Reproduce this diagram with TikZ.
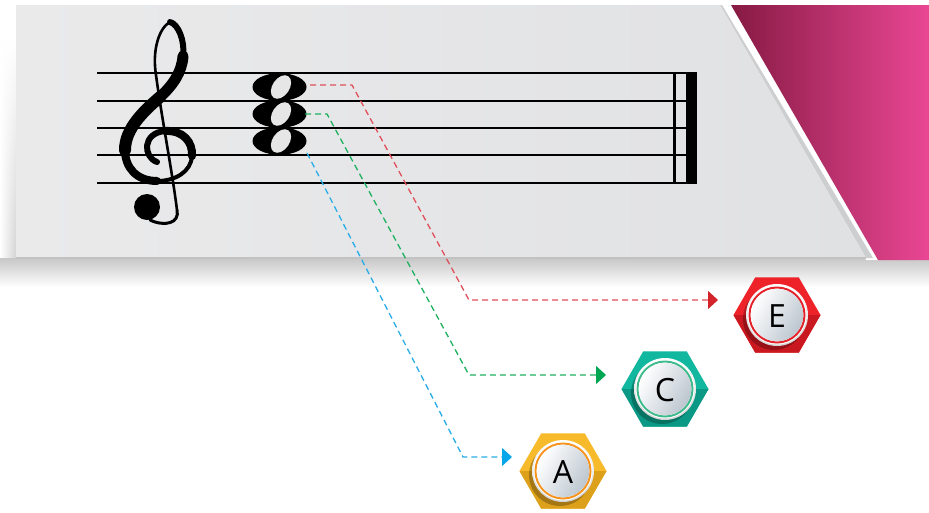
\documentclass[tikz,border=0pt]{standalone}
\usepackage{fontspec}
\setmainfont{Open Sans}
\usetikzlibrary{arrows.meta,calc,shapes.geometric,fadings}
\definecolor{panelL}{HTML}{EAEAEB}
\definecolor{panelR}{HTML}{E0E1E3}
\definecolor{panelM}{HTML}{E6E6E7}
\definecolor{bevel}{HTML}{CDCED0}
\definecolor{pinkL}{HTML}{861A43}
\definecolor{pinkR}{HTML}{EA4794}
\definecolor{redD}{HTML}{E0505A}
\definecolor{redA}{HTML}{D3232B}
\definecolor{greenD}{HTML}{1FB060}
\definecolor{greenA}{HTML}{00A651}
\definecolor{blueD}{HTML}{2AADE6}
\definecolor{blueA}{HTML}{0AA6EA}
\definecolor{redH}{HTML}{EE2229}
\definecolor{redHD}{HTML}{C9181F}
\definecolor{redR}{HTML}{E52129}
\definecolor{tealH}{HTML}{12B7A0}
\definecolor{tealHD}{HTML}{0B9985}
\definecolor{tealR}{HTML}{3DBB8C}
\definecolor{yelH}{HTML}{F6BA2A}
\definecolor{yelHD}{HTML}{DDA01B}
\definecolor{yelR}{HTML}{F7941D}
\definecolor{discR}{HTML}{BCC6CF}
\tikzset{
  staffline/.style={line width=2.6pt, black},
  clef/.style={line cap=round, line join=round, black},
  dashline/.style={line width=1.3pt, dash pattern=on 6pt off 4pt},
  hex/.style={regular polygon, regular polygon sides=6, minimum size=87pt, inner sep=0pt, outer sep=0pt, draw=none},
  letter/.style={font=\fontsize{32}{32}\selectfont, text=black, inner sep=0pt}
}
\begin{document}
\begin{tikzpicture}[x=1pt,y=-1pt]
\useasboundingbox (0,0) rectangle (929,512);
\fill[white] (0,0) rectangle (929,512);
% shadows
\shade[top color=black!22, bottom color=white] (0,258) rectangle (929,287);
\shade[left color=white, right color=black!17, path fading=north] (0,40) rectangle (16,258);
% white strip and bevel
\fill[white] (720,5) -- (731,5) -- (878,260) -- (866,260) -- cycle;
\fill[bevel] (720,5) -- (722,5) -- (873,258) -- (866,258) -- cycle;
% panel
\shade[left color=panelL, right color=panelR] (16,5) -- (720,5) -- (866,258) -- (16,258) -- cycle;
\draw[black!24, line width=1.5pt] (16,258) -- (866,258);
% pink
\shade[left color=pinkL, right color=pinkR] (731,5) -- (929,5) -- (929,260) -- (878,260) -- cycle;
% staff
\foreach \y in {73,101,128,155,183} \draw[staffline] (97,\y) -- (687,\y);
\fill[black] (672.5,71.8) rectangle (676,184.4);
\fill[black] (686,71.8) rectangle (697,184.4);
% treble clef
\draw[clef, line width=6pt] (157,162) .. controls (143,157) and (142,133) .. (165,131);
\draw[clef, line width=8pt] (165,131) .. controls (183,130) and (193,142) .. (192,156);
\draw[clef, line width=4pt] (192,156) .. controls (191,172) and (175,181) .. (157,181);
\draw[clef, line width=8pt] (157,181) .. controls (137,181) and (125,168) .. (125,150);
\draw[clef, line width=12pt] (125,150) .. controls (125,128) and (145,110) .. (160,97);
\draw[clef, line width=11pt] (160,97) .. controls (173,85) and (182,72) .. (183,56);
\draw[clef, line width=6pt] (183,56) .. controls (185,40) and (178,24) .. (170,22);
\draw[clef, line width=2.6pt] (170,22) .. controls (159,28) and (152,50) .. (156,75);
\draw[clef, line width=2.6pt] (156,75) .. controls (162,120) and (172,170) .. (177,210);
\draw[clef, line width=3pt] (177,210) .. controls (180,223) and (165,227) .. (150,220);
\fill[black] (147,207) circle (13pt);
% chord
\foreach \y in {87,114,141} {
  \fill[black] (279.5,\y) ellipse [x radius=27pt, y radius=13.8pt];
  \fill[panelM, rotate around={56:(281,\y)}] (281,\y) ellipse [x radius=13pt, y radius=8.5pt];
}
% hexagons
\foreach \n/\x/\y/\ca/\cb/\cr in {hE/777/315/redH/redHD/redR, hC/665/389/tealH/tealHD/tealR, hA/563/471/yelH/yelHD/yelR} {
  \node[hex, fill=\ca] (\n) at (\x,\y) {};
  \fill[\cb] (\n.west) -- (\n.east) -- ($(\n)+(21.75,37.7)$) -- ($(\n)+(-21.75,37.7)$) -- cycle;
  \fill[black, opacity=0.25] ($(\n)+(-3,4)$) circle (31pt);
  \shade[top color=white, bottom color=black!18] (\n) circle (31pt);
  \fill[white] (\n) circle (29.5pt);
  \draw[\cr, line width=2pt] (\n) circle (27.5pt);
  \shade[left color=white, right color=discR, shading angle=60] (\n) circle (26.3pt);
}
\node[letter] (lE) at ($(hE)+(0,1)$) {E};
\node[letter] (lC) at ($(hC)+(0,1)$) {C};
\node[letter] (lA) at ($(hA)+(0,1)$) {A};
% connectors
\coordinate (sE) at (310,85);
\coordinate (kE1) at (352,85);
\coordinate (kE2) at (469,300);
\coordinate (tE) at (718,300);
\coordinate (sC) at (305,114);
\coordinate (kC1) at (327,114);
\coordinate (kC2) at (469,375);
\coordinate (tC) at (606,375);
\coordinate (sA) at (307,153);
\coordinate (kA) at (463,457);
\coordinate (tA) at (512,457);
\draw[dashline, redD, -{Triangle[length=10pt, width=18pt, color=redA]}] (sE) -- (kE1) -- (kE2) -- (tE);
\draw[dashline, greenD, -{Triangle[length=10pt, width=18pt, color=greenA]}] (sC) -- (kC1) -- (kC2) -- (tC);
\draw[dashline, blueD, -{Triangle[length=10pt, width=18pt, color=blueA]}] (sA) -- (kA) -- (tA);
\end{tikzpicture}
\end{document}
